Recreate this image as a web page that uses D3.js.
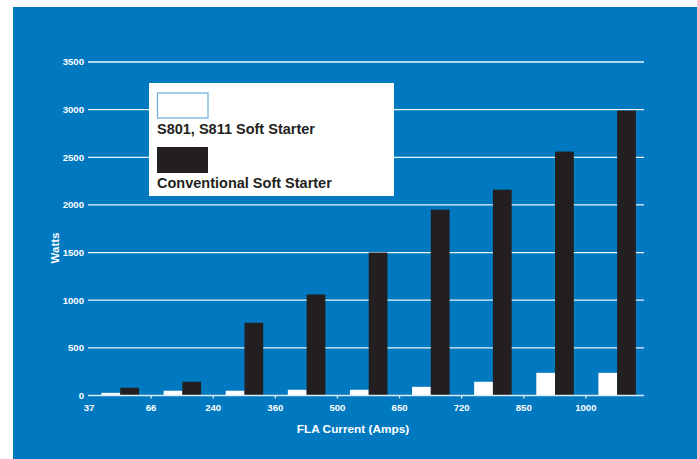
<!DOCTYPE html>
<html>
<head>
<meta charset="utf-8">
<script src="https://cdn.jsdelivr.net/npm/d3@7"></script>
<style>
  html, body { margin: 0; padding: 0; background: #ffffff; }
  svg { display: block; }
  text { font-family: "Liberation Sans", Arial, Helvetica, sans-serif; font-weight: bold; }
</style>
</head>
<body>
<svg id="chart" width="697" height="459"></svg>
<script>
const categories = ["37", "66", "240", "360", "500", "650", "720", "850", "1000"];
const s801Values = [28, 50, 50, 60, 60, 91, 144, 238, 238];
const conventionalValues = [81, 144, 763, 1060, 1500, 1950, 2160, 2560, 2990];
const yTicks = [0, 500, 1000, 1500, 2000, 2500, 3000, 3500];
const seriesNames = ["S801, S811 Soft Starter", "Conventional Soft Starter"];
const seriesKeys = ["s801", "conv"];

const data = categories.map((c, i) => ({ cat: c, s801: s801Values[i], conv: conventionalValues[i] }));

const svg = d3.select("#chart");
const W = 697, H = 459;
const BLUE = "#0079c1";
const DARK = "#231f20";

svg.append("rect").attr("x", 13).attr("y", 7).attr("width", W - 13).attr("height", H - 7).attr("fill", BLUE);

const x = d3.scaleBand().domain(categories).range([89, 648]).padding(0);
const x1 = d3.scaleBand().domain(seriesKeys).range([12.5, 50]).padding(0);
const y = d3.scaleLinear().domain([0, 3500]).range([395.5, 62]);
const color = d3.scaleOrdinal().domain(seriesKeys).range(["#ffffff", DARK]);

// gridlines
svg.append("g").selectAll("line").data(yTicks.filter(d => d > 0)).join("line")
  .attr("x1", 88).attr("x2", 644)
  .attr("y1", d => y(d)).attr("y2", d => y(d))
  .attr("stroke", "#ffffff").attr("stroke-width", 1.3).attr("opacity", 0.92);

// y labels
svg.append("g").selectAll("text").data(yTicks).join("text")
  .attr("x", 84).attr("y", d => y(d) + 3.4)
  .attr("text-anchor", "end").attr("fill", "#ffffff")
  .attr("font-size", "9.6px").text(d => d);

// bars
const groups = svg.append("g").selectAll("g").data(data).join("g")
  .attr("transform", d => `translate(${x(d.cat)},0)`);
groups.selectAll("rect").data(d => seriesKeys.map(k => ({ key: k, value: d[k] }))).join("rect")
  .attr("x", d => x1(d.key)).attr("width", x1.bandwidth())
  .attr("y", d => y(d.value)).attr("height", d => y(0) - y(d.value))
  .attr("fill", d => color(d.key));

// x axis line
svg.append("line").attr("x1", 88).attr("x2", 644).attr("y1", y(0)).attr("y2", y(0))
  .attr("stroke", "#d8ebf8").attr("stroke-width", 1.3);

// x ticks
svg.append("g").selectAll("line").data(categories.slice(1)).join("line")
  .attr("x1", d => x(d)).attr("x2", d => x(d))
  .attr("y1", y(0)).attr("y2", y(0) + 3)
  .attr("stroke", "#d8ebf8").attr("stroke-width", 1.3);

svg.append("g").selectAll("text").data(categories).join("text")
  .attr("x", d => x(d)).attr("y", 410.5)
  .attr("text-anchor", "middle").attr("fill", "#ffffff")
  .attr("font-size", "9.6px").text(d => d);

// axis titles
svg.append("text").attr("x", 353).attr("y", 432.5).attr("text-anchor", "middle")
  .attr("fill", "#ffffff").attr("font-size", "11.8px").text("FLA Current (Amps)");
svg.append("text").attr("transform", "translate(58.5,248) rotate(-90)").attr("text-anchor", "middle")
  .attr("fill", "#ffffff").attr("font-size", "11.5px").text("Watts");

// legend
const lg = svg.append("g");
lg.append("rect").attr("x", 149).attr("y", 83).attr("width", 245).attr("height", 113).attr("fill", "#ffffff");
const legendRows = [
  { key: "s801", name: seriesNames[0], sy: 92.5, ty: 133.5 },
  { key: "conv", name: seriesNames[1], sy: 147, ty: 188 }
];
legendRows.forEach(r => {
  if (r.key === "s801") {
    lg.append("rect").attr("x", 157.5).attr("y", r.sy + 0.5).attr("width", 50.5).attr("height", 25)
      .attr("fill", "#ffffff").attr("stroke", "#6aaedf").attr("stroke-width", 1.2);
  } else {
    lg.append("rect").attr("x", 157).attr("y", r.sy).attr("width", 51).attr("height", 26)
      .attr("fill", color(r.key));
  }
  lg.append("text").attr("x", 157).attr("y", r.ty).attr("fill", DARK)
    .attr("font-size", "14.5px").text(r.name);
});
</script>
</body>
</html>
